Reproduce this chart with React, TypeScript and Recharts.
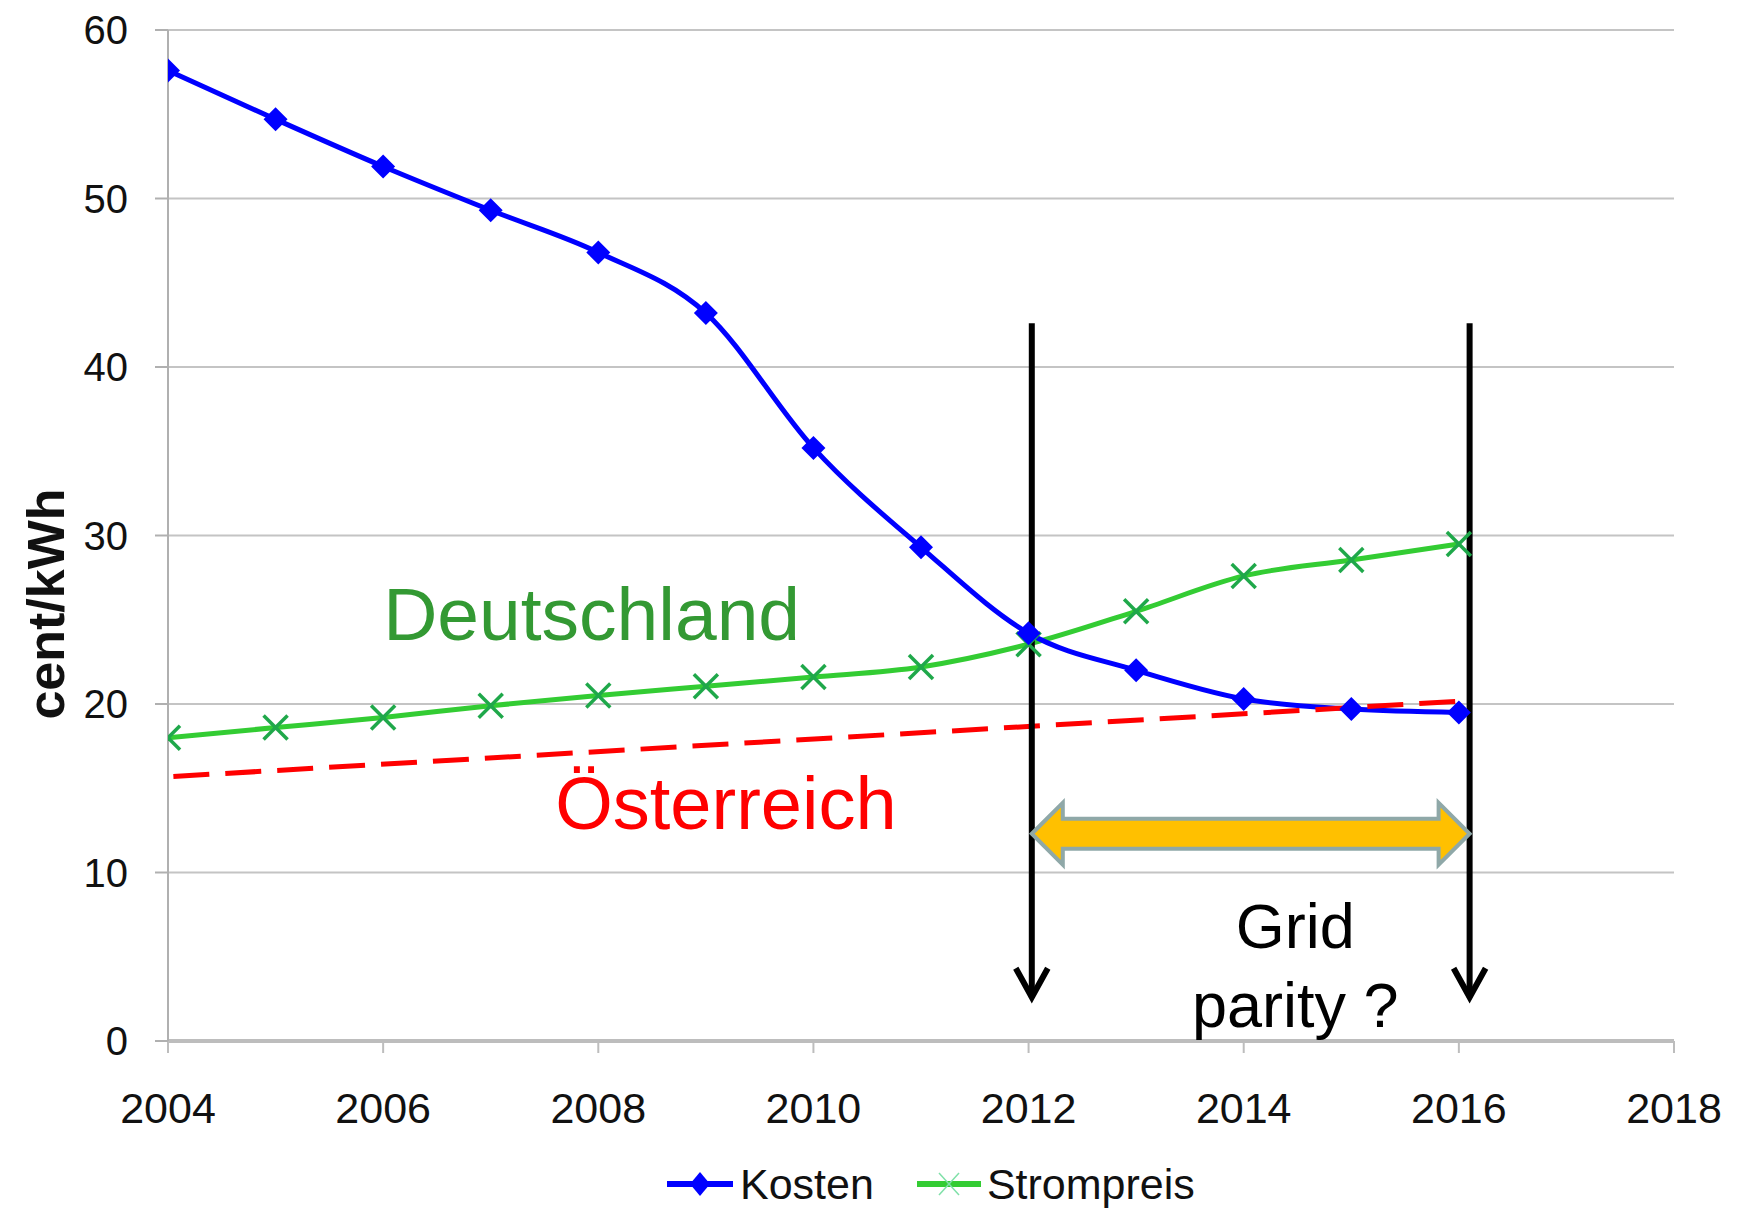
import {
  LineChart,
  Line,
  XAxis,
  YAxis,
  CartesianGrid,
  ReferenceLine,
  ReferenceDot,
  Legend,
} from "recharts";

// Jahre und Werte (cent/kWh)
const years = [2004, 2005, 2006, 2007, 2008, 2009, 2010, 2011, 2012, 2013, 2014, 2015, 2016];
const kosten = [57.6, 54.7, 51.9, 49.3, 46.8, 43.2, 35.2, 29.3, 24.2, 22.0, 20.3, 19.7, 19.5];
const strompreis = [18.0, 18.6, 19.2, 19.9, 20.5, 21.05, 21.6, 22.2, 23.55, 25.5, 27.6, 28.55, 29.5];

// Österreich: gestrichelte Gerade
const austriaYears = [2004.05, 2016.1];
const austriaValues = [15.7, 20.2];

// Grid parity Markierung
const parityYears = [2012.03, 2016.1];
const arrowTop = 42.6;
const arrowBottom = 2.6;
const bandValue = 12.3;

const xTicks = [2004, 2006, 2008, 2010, 2012, 2014, 2016, 2018];
const yTicks = [0, 10, 20, 30, 40, 50, 60];

const chartData = years.map((year, i) => ({
  year,
  kosten: kosten[i],
  strompreis: strompreis[i],
}));
const austriaData = austriaYears.map((year, i) => ({ year, value: austriaValues[i] }));

const FONT = '"Liberation Sans", Arial, sans-serif';

const Diamond = ({ cx, cy, index }: any) => (
  <polygon
    key={`d-${index}`}
    points={`${cx},${cy - 12} ${cx + 12},${cy} ${cx},${cy + 12} ${cx - 12},${cy}`}
    fill="#0000FF"
  />
);

const Cross = ({ cx, cy, index }: any) => (
  <g key={`x-${index}`} stroke="#1FA84A" strokeWidth={3.5}>
    <line x1={cx - 12} y1={cy - 12} x2={cx + 12} y2={cy + 12} />
    <line x1={cx - 12} y1={cy + 12} x2={cx + 12} y2={cy - 12} />
  </g>
);

const DownArrow = ({ x1, y1, x2, y2 }: any) => (
  <g stroke="#000" strokeWidth={6} fill="none">
    <line x1={x1} y1={y1} x2={x2} y2={y2} />
    <polyline points={`${x2 - 16},${y2 - 29} ${x2},${y2} ${x2 + 16},${y2 - 29}`} />
  </g>
);

const DoubleArrow = ({ x1, y1, x2 }: any) => {
  const hl = 31;
  const hh = 31;
  const bh = 15;
  const y = y1;
  const pts = [
    [x1, y],
    [x1 + hl, y - hh],
    [x1 + hl, y - bh],
    [x2 - hl, y - bh],
    [x2 - hl, y - hh],
    [x2, y],
    [x2 - hl, y + hh],
    [x2 - hl, y + bh],
    [x1 + hl, y + bh],
    [x1 + hl, y + hh],
  ]
    .map((p) => p.join(","))
    .join(" ");
  return <polygon points={pts} fill="#FFC000" stroke="#8FA8A8" strokeWidth={4} />;
};

const textLabel =
  (text: string, color: string, size: number, anchor: "start" | "middle") =>
  ({ viewBox }: any) =>
    (
      <text
        x={viewBox.x}
        y={viewBox.y}
        fill={color}
        fontSize={size}
        fontFamily={FONT}
        textAnchor={anchor}
      >
        {text}
      </text>
    );

const renderLegend = () => (
  <div
    style={{
      display: "flex",
      alignItems: "center",
      height: 60,
      paddingLeft: 667,
      fontFamily: FONT,
      fontSize: 43,
      color: "#111",
    }}
  >
    <svg width={66} height={30} style={{ marginRight: 7 }}>
      <line x1={0} y1={15} x2={66} y2={15} stroke="#0000FF" strokeWidth={6} />
      <polygon points="33,3 43,15 33,27 23,15" fill="#0000FF" />
    </svg>
    <span style={{ marginRight: 43 }}>Kosten</span>
    <svg width={64} height={30} style={{ marginRight: 6 }}>
      <line x1={0} y1={15} x2={64} y2={15} stroke="#33CC33" strokeWidth={6} />
      <g stroke="#7FE0A8" strokeWidth={1.5}>
        <line x1={22} y1={4} x2={42} y2={26} />
        <line x1={22} y1={26} x2={42} y2={4} />
      </g>
    </svg>
    <span>Strompreis</span>
  </div>
);

export default function App() {
  return (
    <div
      style={{
        position: "absolute",
        left: 0,
        top: 0,
        width: 1739,
        height: 1210,
        background: "#ffffff",
        fontFamily: FONT,
      }}
    >
      <LineChart width={1739} height={1210} margin={{ top: 30, right: 65, left: 0, bottom: 9 }}>
        <CartesianGrid vertical={false} stroke="#c4c4c4" strokeWidth={2} />
        <XAxis
          type="number"
          dataKey="year"
          domain={[2004, 2018]}
          ticks={xTicks}
          allowDataOverflow
          height={100}
          tickSize={12}
          tickMargin={39}
          tick={{ fill: "#111", fontSize: 43, fontFamily: FONT }}
          axisLine={{ stroke: "#bdbdbd", strokeWidth: 4 }}
          tickLine={{ stroke: "#bdbdbd", strokeWidth: 2 }}
        />
        <YAxis
          type="number"
          domain={[0, 60]}
          ticks={yTicks}
          width={168}
          tickSize={13}
          tickMargin={27}
          tick={{ fill: "#111", fontSize: 40, fontFamily: FONT }}
          axisLine={{ stroke: "#b0b0b0", strokeWidth: 2 }}
          tickLine={{ stroke: "#b0b0b0", strokeWidth: 2 }}
          label={{
            content: () => (
              <text
                x={46}
                y={604}
                transform="rotate(-90 46 604)"
                textAnchor="middle"
                dominantBaseline="central"
                fontSize={52}
                fontWeight="bold"
                fontFamily={FONT}
                fill="#111"
              >
                cent/kWh
              </text>
            ),
          }}
        />
        <Legend content={renderLegend} wrapperStyle={{ top: 1154, left: 0, width: 1739, height: 60 }} />
        <Line
          data={chartData}
          dataKey="strompreis"
          name="Strompreis"
          type="monotone"
          stroke="#33CC33"
          strokeWidth={5}
          dot={Cross}
          activeDot={false}
          isAnimationActive={false}
        />
        <Line
          data={chartData}
          dataKey="kosten"
          name="Kosten"
          type="monotone"
          stroke="#0000FF"
          strokeWidth={5}
          dot={Diamond}
          activeDot={false}
          isAnimationActive={false}
        />
        <Line
          data={austriaData}
          dataKey="value"
          name="Österreich"
          type="linear"
          stroke="#FF0000"
          strokeWidth={5}
          strokeDasharray="36 16"
          dot={false}
          activeDot={false}
          legendType="none"
          isAnimationActive={false}
        />
        {parityYears.map((yr) => (
          <ReferenceLine
            key={yr}
            segment={[
              { x: yr, y: arrowTop },
              { x: yr, y: arrowBottom },
            ]}
            shape={DownArrow}
          />
        ))}
        <ReferenceLine
          segment={[
            { x: parityYears[0], y: bandValue },
            { x: parityYears[1], y: bandValue },
          ]}
          shape={DoubleArrow}
        />
        <ReferenceDot x={2006.0} y={23.8} r={0} fill="none" stroke="none" label={textLabel("Deutschland", "#339933", 75, "start")} />
        <ReferenceDot x={2007.6} y={12.56} r={0} fill="none" stroke="none" label={textLabel("Österreich", "#FF0000", 74, "start")} />
        <ReferenceDot x={2014.48} y={5.54} r={0} fill="none" stroke="none" label={textLabel("Grid", "#000", 63, "middle")} />
        <ReferenceDot x={2014.48} y={0.85} r={0} fill="none" stroke="none" label={textLabel("parity ?", "#000", 63, "middle")} />
      </LineChart>
    </div>
  );
}
